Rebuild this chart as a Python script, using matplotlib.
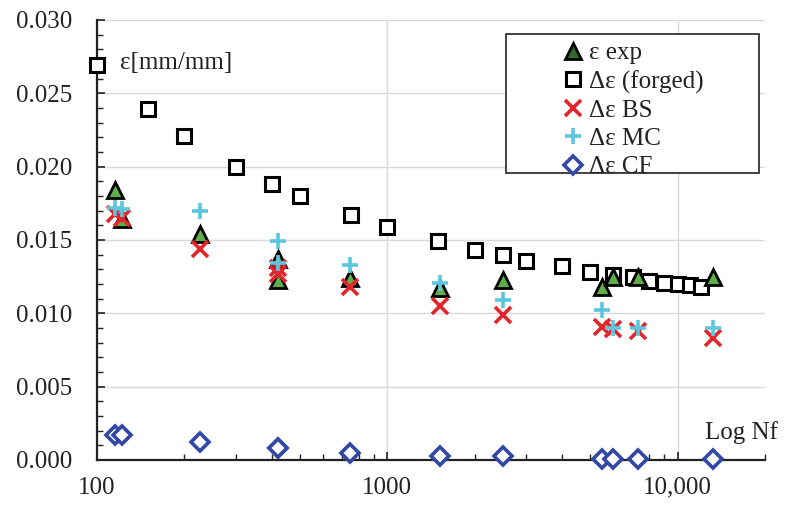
import matplotlib
matplotlib.use("Agg")
import matplotlib.pyplot as plt
from matplotlib.ticker import FixedLocator, FixedFormatter, MultipleLocator, LogLocator, NullFormatter
from matplotlib.patches import Rectangle
from matplotlib.lines import Line2D

plt.rcParams['font.family'] = ['Liberation Serif', 'DejaVu Serif']

# ---- data ----
nf_forged = [100, 150, 200, 300, 400, 500, 750, 1000, 1500, 2000, 2500, 3000,
             4000, 5000, 6000, 7000, 8000, 9000, 10000, 11000, 12000]
eps_forged = [0.0269, 0.0239, 0.0221, 0.0200, 0.0188, 0.0180, 0.0167, 0.0159,
              0.0149, 0.0143, 0.0140, 0.0136, 0.0132, 0.0128, 0.0126, 0.0125,
              0.0122, 0.0121, 0.0120, 0.0119, 0.0118]

nf_exp = [115, 122, 226, 420, 420, 745, 1520, 2510, 5500, 6000, 7300, 13200]
eps_exp = [0.0184, 0.0164, 0.0154, 0.0137, 0.0123, 0.0124, 0.0117, 0.0123,
           0.0118, 0.0125, 0.0125, 0.0125]
eps_bs = [0.0168, 0.0165, 0.0144, 0.0131, 0.0127, 0.0118, 0.0105, 0.0099,
          0.0091, 0.0089, 0.0088, 0.0083]
eps_mc = [0.0172, 0.0171, 0.0170, 0.0149, 0.0134, 0.0133, 0.0121, 0.0109,
          0.0102, 0.0090, 0.0090, 0.0090]
eps_cf = [0.0017, 0.0017, 0.0012, 0.0008, 0.0008, 0.0005, 0.0003, 0.0003,
          0.0001, 0.0001, 0.0001, 0.0001]

x_ticks = [100, 1000, 10000]
x_tick_labels = ["100", "1000", "10,000"]
y_ticks = [0.000, 0.005, 0.010, 0.015, 0.020, 0.025, 0.030]
y_tick_labels = ["0.000", "0.005", "0.010", "0.015", "0.020", "0.025", "0.030"]

labels = ["\u03b5 exp", "\u0394\u03b5 (forged)", "\u0394\u03b5 BS", "\u0394\u03b5 MC", "\u0394\u03b5 CF"]

# ---- figure ----
W, H = 787, 508
fig = plt.figure(figsize=(W / 100, H / 100), dpi=100)
ax = fig.add_axes([97 / W, 1 - 460 / H, (765 - 97) / W, (460 - 20) / H])

FS = 18
green = '#5fae4a'
red = '#e3262c'
cyan = '#5cc6de'
navy = '#3347a6'

ax.plot(nf_forged, eps_forged, ls='none', marker='s', ms=9.5, mfc='white',
        mec='black', mew=2.2, zorder=3, clip_on=False)
ax.plot(nf_exp, eps_exp, ls='none', marker='^', ms=11, mfc=green,
        mec='black', mew=2.0, zorder=4)
ax.plot(nf_exp, eps_bs, ls='none', marker='x', ms=11, mec=red, mew=2.6, zorder=4)
ax.plot(nf_exp, eps_mc, ls='none', marker='+', ms=11, mec=cyan, mew=2.6, zorder=4)
ax.plot(nf_exp, eps_cf, ls='none', marker='D', ms=9, mfc='white',
        mec=navy, mew=2.6, zorder=5, clip_on=False)

ax.set_xscale('log')
ax.set_xlim(100, 20000)
ax.set_ylim(0, 0.030)

ax.xaxis.set_major_locator(FixedLocator(x_ticks))
ax.xaxis.set_major_formatter(FixedFormatter(x_tick_labels))
ax.xaxis.set_minor_locator(LogLocator(base=10, subs=range(2, 10)))
ax.xaxis.set_minor_formatter(NullFormatter())
ax.yaxis.set_major_locator(FixedLocator(y_ticks))
ax.yaxis.set_major_formatter(FixedFormatter(y_tick_labels))
ax.yaxis.set_minor_locator(MultipleLocator(0.001))

ax.tick_params(axis='both', which='both', direction='in', colors='#222222',
               labelcolor='#222222', labelsize=FS)
ax.tick_params(axis='both', which='major', length=6, width=1.2)
ax.tick_params(axis='both', which='minor', length=4, width=1.0)
ax.tick_params(axis='y', which='major', pad=18)
ax.tick_params(axis='x', which='major', pad=12)

ax.grid(True, which='major', color='#d9d9d9', lw=1.0)
ax.set_axisbelow(True)
for s in ['top', 'right']:
    ax.spines[s].set_visible(False)
for s in ['left', 'bottom']:
    ax.spines[s].set_color('#222222')
    ax.spines[s].set_linewidth(1.6)

ax.text(120 / W, 1 - 63 / H, "\u03b5[mm/mm]", transform=fig.transFigure,
        fontsize=FS, va='center', ha='left', color='#222222')
ax.text(705 / W, 1 - 433 / H, "Log Nf", transform=fig.transFigure,
        fontsize=FS, va='center', ha='left', color='#222222')

# legend box
rect = Rectangle((506 / W, 1 - 173 / H), (759 - 506) / W, (173 - 34) / H,
                 transform=fig.transFigure, facecolor='white', edgecolor='#222222',
                 lw=1.2, zorder=6, clip_on=False)
ax.add_patch(rect)

handles = [
    Line2D([], [], ls='none', marker='^', ms=11, mfc='#2f6b2a', mec='black', mew=2.0),
    Line2D([], [], ls='none', marker='s', ms=9.5, mfc='white', mec='black', mew=2.2),
    Line2D([], [], ls='none', marker='x', ms=11, mec=red, mew=2.6),
    Line2D([], [], ls='none', marker='+', ms=11, mec=cyan, mew=2.6),
    Line2D([], [], ls='none', marker='D', ms=9, mfc='white', mec=navy, mew=2.6),
]
leg = ax.legend(handles, labels, loc='upper left',
                bbox_to_anchor=(563 / W, 1 - 42 / H), bbox_transform=fig.transFigure,
                frameon=False, fontsize=FS, handlelength=0.8, handletextpad=0.25,
                labelspacing=0.23, borderpad=0, borderaxespad=0)
leg.set_zorder(7)
for t in leg.get_texts():
    t.set_color('#222222')

fig.savefig('out.png', dpi=100)
